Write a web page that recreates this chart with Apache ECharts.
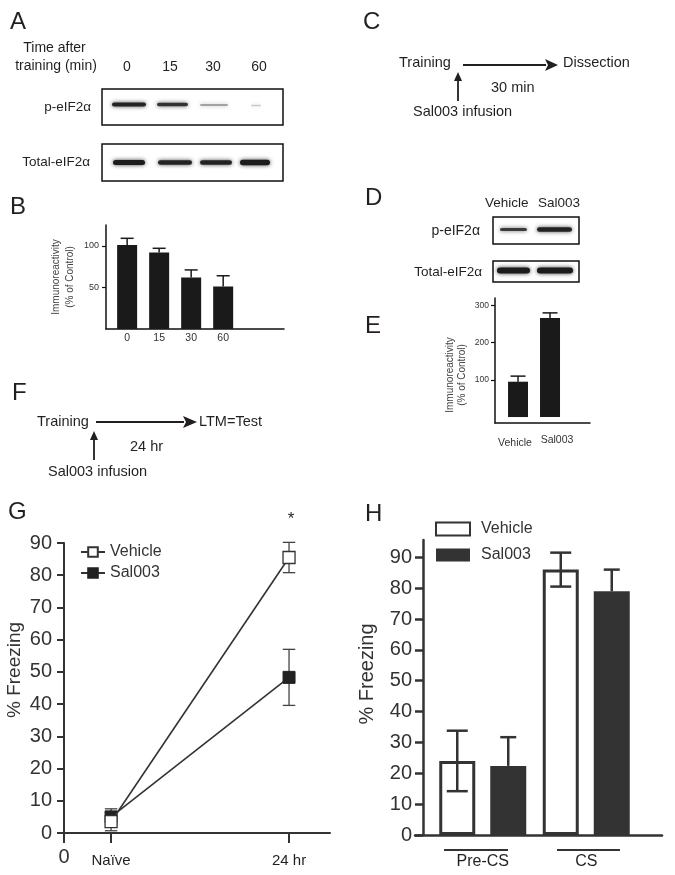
<!DOCTYPE html>
<html><head><meta charset="utf-8">
<script src="https://cdn.jsdelivr.net/npm/echarts@6/dist/echarts.min.js"></script>
<style>html,body{margin:0;padding:0;background:#fff}#c{width:675px;height:875px}</style>
</head><body><div id="c"></div>
<script>
// ---------- Data ----------
const bCategories = ['0', '15', '30', '60'];
const bValues = [101, 92, 62, 51];
const bErrors = [8, 5, 9, 13];

const eCategories = ['Vehicle', 'Sal003'];
const eValues = [95, 266];
const eErrors = [15, 14];

const gTimeLabels = ['Naïve', '24 hr'];
const gTimePos = [17.7, 84.6];
const gVehicle = [3.5, 85.5];
const gVehicleErr = [2.8, 4.7];
const gSal003 = [5, 48.3];
const gSal003Err = [2.5, 8.7];

const hCategories = ['Pre-CS', 'CS'];
const hVehicle = [24, 86];
const hVehicleErr = [9.8, 5.5];
const hSal003 = [22.4, 79];
const hSal003Err = [9.3, 7];

const bTicks = [50, 100];
const eTicks = [100, 200, 300];
const freezeTicks = [0, 10, 20, 30, 40, 50, 60, 70, 80, 90];

// ---------- Styles ----------
const FONT = '"Liberation Sans", Arial, sans-serif';
const INK = '#231f20';
const DARK = '#333';

function txt(x, y, s, size, align, opts) {
  opts = opts || {};
  return Object.assign({
    type: 'text', x: x, y: y, silent: true,
    style: {
      text: s, fontSize: size, fontFamily: FONT, fill: opts.fill || INK,
      align: align || 'left', verticalAlign: 'middle',
      textAlign: align || 'left', textVerticalAlign: 'middle'
    }
  }, opts.rotation ? { rotation: opts.rotation } : {});
}
function box(x, y, w, h) {
  return { type: 'rect', shape: { x: x, y: y, width: w, height: h }, silent: true,
    style: { fill: '#fff', stroke: '#111', lineWidth: 1.5 } };
}
function band(x1, x2, yc, h, op) {
  return { type: 'rect', silent: true, shape: { x: x1, y: yc - h / 2, width: x2 - x1, height: h, r: h / 2 },
    style: { fill: '#1c1c1c', opacity: op, shadowBlur: 4, shadowColor: 'rgba(0,0,0,0.75)' } };
}
function line(x1, y1, x2, y2, w, c) {
  return { type: 'line', silent: true, shape: { x1: x1, y1: y1, x2: x2, y2: y2 },
    style: { stroke: c || INK, lineWidth: w || 1.5 } };
}
function hArrow(x1, x2, y, head, half) {
  return [line(x1, y, x2 - head + 1, y, 2),
    { type: 'polygon', silent: true, shape: { points: [[x2, y], [x2 - head, y - half], [x2 - head + 3, y], [x2 - head, y + half]] },
      style: { fill: INK } }];
}
function vArrowUp(x, yBottom, yTip, head, half) {
  return [line(x, yBottom, x, yTip + head - 1, 1.8),
    { type: 'polygon', silent: true, shape: { points: [[x, yTip], [x - half, yTip + head], [x + half, yTip + head]] },
      style: { fill: INK } }];
}

function errRender(cfg) {
  return function (params, api) {
    const x = api.value(0), y = api.value(1), e = api.value(2);
    const top = api.coord([x, y + e]);
    const mid = api.coord([x, y]);
    const bot = api.coord([x, y - e]);
    const cx = top[0] + (cfg.dx || 0);
    const hw = cfg.cap / 2;
    const st = { stroke: cfg.color, lineWidth: cfg.width };
    const ch = [
      { type: 'line', shape: { x1: cx, y1: top[1], x2: cx, y2: cfg.both ? bot[1] : mid[1] }, style: st },
      { type: 'line', shape: { x1: cx - hw, y1: top[1], x2: cx + hw, y2: top[1] }, style: st }
    ];
    if (cfg.both) ch.push({ type: 'line', shape: { x1: cx - hw, y1: bot[1], x2: cx + hw, y2: bot[1] }, style: st });
    return { type: 'group', children: ch };
  };
}

const H_BAR_W = 36, H_BAR_GAP = 15;
const H_OFF = (H_BAR_W + H_BAR_GAP) / 2;
const H_MAX = 95.6;

// ---------- Graphic (non-chart panels, labels) ----------
const g = [];
[['A', 10, 22], ['B', 10, 207], ['C', 363, 22], ['D', 365, 198], ['E', 365, 326], ['F', 12, 393], ['G', 8, 512], ['H', 365, 514]]
  .forEach(function (p) { g.push(txt(p[1], p[2], p[0], 24, 'left')); });

// Panel A blots
g.push(txt(54.5, 48, 'Time after', 14, 'center'));
g.push(txt(56, 66, 'training (min)', 14, 'center'));
bCategories.forEach(function (c, i) { g.push(txt([127, 170, 213, 259][i], 67, c, 14, 'center')); });
g.push(box(102, 89, 181, 36));
g.push(txt(91, 107, 'p-eIF2α', 13.5, 'right'));
g.push(band(112, 146, 104.5, 4, 0.95));
g.push(band(157, 188, 104.5, 3.5, 0.85));
g.push(band(200, 228, 105, 2, 0.35));
g.push(band(251, 261, 105.5, 1.5, 0.2));
g.push(box(102, 144, 181, 37));
g.push(txt(90, 162, 'Total-eIF2α', 13.5, 'right'));
g.push(band(113, 145, 162.5, 5, 1));
g.push(band(158, 192, 162.5, 4.5, 0.95));
g.push(band(200, 232, 162.5, 4.5, 0.95));
g.push(band(240, 270, 162.5, 5.5, 1));

// Panel B axis title
g.push(txt(56, 277, 'Immunoreactivity', 10, 'center', { rotation: Math.PI / 2, fill: '#444' }));
g.push(txt(70, 277, '(% of Control)', 10, 'center', { rotation: Math.PI / 2, fill: '#444' }));

// Panel C
g.push(txt(399, 63, 'Training', 14.5, 'left'));
g.push.apply(g, hArrow(463, 558, 65, 13, 6));
g.push(txt(563, 63, 'Dissection', 14.5, 'left'));
g.push.apply(g, vArrowUp(458, 101, 72, 9, 4));
g.push(txt(491, 88, '30 min', 14.5, 'left'));
g.push(txt(413, 112, 'Sal003 infusion', 14.5, 'left'));

// Panel D
g.push(txt(485, 203, 'Vehicle', 13.5, 'left'));
g.push(txt(538, 203, 'Sal003', 13.5, 'left'));
g.push(box(493, 217, 86, 27));
g.push(txt(480, 231, 'p-eIF2α', 14, 'right'));
g.push(band(500, 527, 229.5, 3, 0.8));
g.push(band(537, 572, 229.5, 4.5, 0.95));
g.push(box(493, 261, 86, 21));
g.push(txt(482, 272, 'Total-eIF2α', 13.5, 'right'));
g.push(band(497, 530, 270.5, 6, 1));
g.push(band(537, 573, 270.5, 6, 1));

// Panel E axis title
g.push(txt(450, 375, 'Immunoreactivity', 10, 'center', { rotation: Math.PI / 2, fill: '#444' }));
g.push(txt(462, 375, '(% of Control)', 10, 'center', { rotation: Math.PI / 2, fill: '#444' }));

// Panel F
g.push(txt(37, 422, 'Training', 14.5, 'left'));
g.push.apply(g, hArrow(96, 197, 422, 14, 6));
g.push(txt(199, 422, 'LTM=Test', 14.5, 'left'));
g.push.apply(g, vArrowUp(94, 460, 431, 9, 4));
g.push(txt(130, 447, '24 hr', 14.5, 'left'));
g.push(txt(48, 472, 'Sal003 infusion', 14.5, 'left'));

// Panel G annotations
g.push(txt(291, 519, '*', 17, 'center'));
g.push(txt(15, 670, '% Freezing', 19, 'center', { rotation: Math.PI / 2, fill: DARK }));

// Panel H annotations
g.push(txt(367, 674, '% Freezing', 20, 'center', { rotation: Math.PI / 2, fill: DARK }));
g.push(line(444, 850, 508, 850, 2, DARK));
g.push(line(557, 850, 620, 850, 2, DARK));

// ---------- Chart ----------
const chart = echarts.init(document.getElementById('c'), null, { renderer: 'canvas' });
const axisLine = (w, c) => ({ show: true, onZero: false, lineStyle: { color: c || '#111', width: w } });

const option = {
  animation: false,
  backgroundColor: '#fff',
  textStyle: { fontFamily: FONT },
  grid: [
    { left: 106, top: 225, width: 178, height: 104 },   // B
    { left: 495, top: 298, width: 95, height: 125 },    // E
    { left: 64, top: 543, width: 266, height: 290 },    // G
    { left: 415, top: 540, width: 247, height: 295 },   // H axes
    { left: 431, top: 540, width: 207, height: 295 }    // H bars
  ],
  xAxis: [
    { gridIndex: 0, type: 'value', min: -0.66, max: 4.9, axisLine: axisLine(1.5),
      axisTick: { show: false }, splitLine: { show: false },
      axisLabel: { customValues: [0, 1, 2, 3], hideOverlap: false, formatter: v => bCategories[v], fontSize: 10.5, color: '#333', margin: 4 } },
    { gridIndex: 1, type: 'value', min: -0.72, max: 2.25, axisLine: axisLine(1.5),
      axisTick: { show: false }, splitLine: { show: false },
      axisLabel: { customValues: [0, 1], hideOverlap: false, margin: 12,
        formatter: v => (v === 0 ? '{v|' : '{s|') + eCategories[v] + '}',
        rich: { v: { fontSize: 10.5, color: '#333', fontFamily: FONT, padding: [3, 6, 0, 0] },
                s: { fontSize: 10.5, color: '#333', fontFamily: FONT, padding: [0, 0, 0, 14] } } } },
    { gridIndex: 2, type: 'value', min: 0, max: 100, axisLine: axisLine(2, DARK),
      axisTick: { customValues: [0].concat(gTimePos), length: 10, lineStyle: { color: DARK, width: 2 } },
      splitLine: { show: false },
      axisLabel: { customValues: [0].concat(gTimePos), hideOverlap: false, margin: 14,
        formatter: v => v === 0 ? '{z|0}' : '{t|' + gTimeLabels[gTimePos.indexOf(v)] + '}',
        rich: { z: { fontSize: 20, color: DARK, fontFamily: FONT }, t: { fontSize: 15, color: INK, fontFamily: FONT, padding: [6, 0, 0, 0] } } } },
    { gridIndex: 3, type: 'value', min: 0, max: 1, axisLine: axisLine(2.5, DARK),
      axisTick: { show: false }, axisLabel: { show: false }, splitLine: { show: false } },
    { gridIndex: 4, type: 'category', data: hCategories, axisLine: { show: false }, axisTick: { show: false },
      axisLabel: { fontSize: 16, color: INK, margin: 19 } }
  ],
  yAxis: [
    { gridIndex: 0, type: 'value', min: 0, max: 125, axisLine: axisLine(1.5), splitLine: { show: false },
      axisTick: { customValues: bTicks, length: 4, lineStyle: { color: '#111', width: 1.2 } },
      axisLabel: { customValues: bTicks, fontSize: 9, color: '#333', margin: 7 } },
    { gridIndex: 1, type: 'value', min: -16, max: 320, axisLine: axisLine(1.5), splitLine: { show: false },
      axisTick: { customValues: eTicks, length: 4, lineStyle: { color: '#111', width: 1.2 } },
      axisLabel: { customValues: eTicks, fontSize: 8.5, color: '#333', margin: 6 } },
    { gridIndex: 2, type: 'value', min: 0, max: 90, axisLine: axisLine(2, DARK), splitLine: { show: false },
      axisTick: { customValues: freezeTicks, length: 7, lineStyle: { color: DARK, width: 2 } },
      axisLabel: { customValues: freezeTicks, fontSize: 20, color: DARK, margin: 12 } },
    { gridIndex: 3, type: 'value', min: 0, max: H_MAX, offset: -8, axisLine: axisLine(2.5, DARK), splitLine: { show: false },
      axisTick: { customValues: freezeTicks, length: 8, lineStyle: { color: DARK, width: 2.5 } },
      axisLabel: { customValues: freezeTicks, fontSize: 20, color: DARK, margin: 11 } },
    { gridIndex: 4, type: 'value', min: 0, max: H_MAX, show: false }
  ],
  legend: [
    { data: ['Vehicle', 'Sal003'], orient: 'vertical', left: 80, top: 544, itemWidth: 24, itemHeight: 12, itemGap: 5,
      selectedMode: false, padding: 0, textStyle: { fontSize: 16, color: DARK, fontFamily: FONT } },
    { data: ['Vehicle (H)', 'Sal003 (H)'], orient: 'vertical', left: 435, top: 521, itemWidth: 34, itemHeight: 13, itemGap: 10,
      icon: 'rect', selectedMode: false, padding: 0, formatter: n => n.replace(' (H)', ''),
      textStyle: { fontSize: 16, color: DARK, fontFamily: FONT, padding: [0, 0, 0, 6] } }
  ],
  series: [
    // B
    { type: 'bar', xAxisIndex: 0, yAxisIndex: 0, barWidth: 20, data: bValues.map((v, i) => [i, v]),
      itemStyle: { color: '#1a1a1a' }, z: 2 },
    { type: 'custom', xAxisIndex: 0, yAxisIndex: 0, encode: { x: 0, y: 1 }, z: 3,
      data: bValues.map((v, i) => [i, v, bErrors[i]]),
      renderItem: errRender({ cap: 13, width: 1.5, color: '#1a1a1a', both: false }) },
    // E
    { type: 'bar', xAxisIndex: 1, yAxisIndex: 1, barWidth: 20, data: eValues.map((v, i) => [i, v]),
      itemStyle: { color: '#1a1a1a' }, z: 2 },
    { type: 'custom', xAxisIndex: 1, yAxisIndex: 1, encode: { x: 0, y: 1 }, z: 3,
      data: eValues.map((v, i) => [i, v, eErrors[i]]),
      renderItem: errRender({ cap: 15, width: 1.5, color: '#1a1a1a', both: false }) },
    // G
    { type: 'custom', xAxisIndex: 2, yAxisIndex: 2, encode: { x: 0, y: 1 }, z: 2,
      data: gTimePos.map((x, i) => [x, gSal003[i], gSal003Err[i]]).concat(gTimePos.map((x, i) => [x, gVehicle[i], gVehicleErr[i]])),
      renderItem: errRender({ cap: 12.5, width: 1.3, color: '#444', both: true }) },
    { name: 'Sal003', type: 'line', xAxisIndex: 2, yAxisIndex: 2, z: 3,
      data: gTimePos.map((x, i) => [x, gSal003[i]]), symbol: 'rect', symbolSize: 12,
      lineStyle: { color: DARK, width: 1.6 }, itemStyle: { color: '#222', borderColor: '#222', borderWidth: 1 } },
    { name: 'Vehicle', type: 'line', xAxisIndex: 2, yAxisIndex: 2, z: 4,
      data: gTimePos.map((x, i) => [x, gVehicle[i]]), symbol: 'rect', symbolSize: 12,
      lineStyle: { color: DARK, width: 1.6 }, itemStyle: { color: '#fff', borderColor: '#333', borderWidth: 1.3 } },
    // H
    { name: 'Vehicle (H)', type: 'bar', xAxisIndex: 4, yAxisIndex: 4, barWidth: H_BAR_W,
      barGap: (H_BAR_GAP / H_BAR_W * 100) + '%', data: hVehicle, z: 2,
      itemStyle: { color: '#fff', borderColor: DARK, borderWidth: 3 } },
    { name: 'Sal003 (H)', type: 'bar', xAxisIndex: 4, yAxisIndex: 4, barWidth: H_BAR_W, data: hSal003, z: 2,
      itemStyle: { color: DARK } },
    { type: 'custom', xAxisIndex: 4, yAxisIndex: 4, encode: { x: 0, y: 1 }, z: 3,
      data: hVehicle.map((v, i) => [i, v, hVehicleErr[i]]),
      renderItem: errRender({ cap: 21, width: 2.5, color: DARK, both: true, dx: -H_OFF }) },
    { type: 'custom', xAxisIndex: 4, yAxisIndex: 4, encode: { x: 0, y: 1 }, z: 3,
      data: hSal003.map((v, i) => [i, v, hSal003Err[i]]),
      renderItem: errRender({ cap: 16, width: 2.5, color: DARK, both: false, dx: H_OFF }) }
  ],
  graphic: { elements: g }
};
chart.setOption(option);
</script>
</body></html>
